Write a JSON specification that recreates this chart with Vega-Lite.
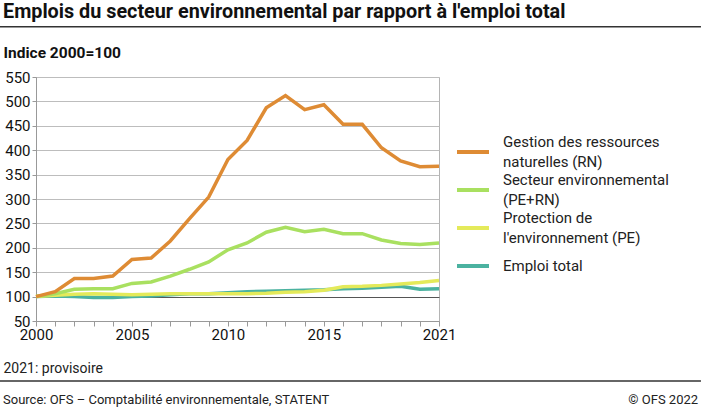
{
  "$schema": "https://vega.github.io/schema/vega-lite/v6.json",
  "autosize": "none",
  "width": 403,
  "height": 244,
  "padding": {"left": 36, "top": 77, "right": 262, "bottom": 89},
  "background": "white",
  "config": {
    "font": "Roboto",
    "view": {"stroke": "#b4b4b4", "strokeWidth": 1},
    "axis": {
      "labelOverlap": false,
      "labelFlush": false,
      "labelFont": "Roboto",
      "labelFontSize": 15,
      "labelColor": "#111",
      "tickColor": "#999",
      "domainColor": "#999",
      "titleFont": "Roboto",
      "titleColor": "#111"
    },
    "axisX": {"tickSize": 5, "labelPadding": 1, "grid": false},
    "axisY": {"tickSize": 4, "labelPadding": 2, "grid": true, "gridColor": "#bdbdbd", "gridWidth": 1}
  },
  "title": {
    "text": "Emplois du secteur environnemental par rapport à l'emploi total",
    "anchor": "start",
    "frame": "group",
    "font": "Roboto",
    "fontSize": 19.8,
    "fontWeight": "bold",
    "color": "#111",
    "baseline": "alphabetic",
    "dx": -33,
    "dy": 43,
    "offset": 31
  },
  "layer": [
    {
      "data": {
        "values": [
          {"year": 2000, "series": "Emploi total", "v": 100},
          {"year": 2001, "series": "Emploi total", "v": 101},
          {"year": 2002, "series": "Emploi total", "v": 100},
          {"year": 2003, "series": "Emploi total", "v": 98},
          {"year": 2004, "series": "Emploi total", "v": 98},
          {"year": 2005, "series": "Emploi total", "v": 100},
          {"year": 2006, "series": "Emploi total", "v": 101},
          {"year": 2007, "series": "Emploi total", "v": 104},
          {"year": 2008, "series": "Emploi total", "v": 106},
          {"year": 2009, "series": "Emploi total", "v": 106},
          {"year": 2010, "series": "Emploi total", "v": 108},
          {"year": 2011, "series": "Emploi total", "v": 110},
          {"year": 2012, "series": "Emploi total", "v": 111},
          {"year": 2013, "series": "Emploi total", "v": 112},
          {"year": 2014, "series": "Emploi total", "v": 113},
          {"year": 2015, "series": "Emploi total", "v": 114},
          {"year": 2016, "series": "Emploi total", "v": 116},
          {"year": 2017, "series": "Emploi total", "v": 117},
          {"year": 2018, "series": "Emploi total", "v": 119},
          {"year": 2019, "series": "Emploi total", "v": 121},
          {"year": 2020, "series": "Emploi total", "v": 115},
          {"year": 2021, "series": "Emploi total", "v": 116},
          {"year": 2000, "series": "Protection de l'environnement (PE)", "v": 100},
          {"year": 2001, "series": "Protection de l'environnement (PE)", "v": 103},
          {"year": 2002, "series": "Protection de l'environnement (PE)", "v": 105},
          {"year": 2003, "series": "Protection de l'environnement (PE)", "v": 106},
          {"year": 2004, "series": "Protection de l'environnement (PE)", "v": 105},
          {"year": 2005, "series": "Protection de l'environnement (PE)", "v": 104},
          {"year": 2006, "series": "Protection de l'environnement (PE)", "v": 105},
          {"year": 2007, "series": "Protection de l'environnement (PE)", "v": 106},
          {"year": 2008, "series": "Protection de l'environnement (PE)", "v": 106},
          {"year": 2009, "series": "Protection de l'environnement (PE)", "v": 106},
          {"year": 2010, "series": "Protection de l'environnement (PE)", "v": 106},
          {"year": 2011, "series": "Protection de l'environnement (PE)", "v": 106},
          {"year": 2012, "series": "Protection de l'environnement (PE)", "v": 107},
          {"year": 2013, "series": "Protection de l'environnement (PE)", "v": 109},
          {"year": 2014, "series": "Protection de l'environnement (PE)", "v": 110},
          {"year": 2015, "series": "Protection de l'environnement (PE)", "v": 113},
          {"year": 2016, "series": "Protection de l'environnement (PE)", "v": 120},
          {"year": 2017, "series": "Protection de l'environnement (PE)", "v": 121},
          {"year": 2018, "series": "Protection de l'environnement (PE)", "v": 123},
          {"year": 2019, "series": "Protection de l'environnement (PE)", "v": 126},
          {"year": 2020, "series": "Protection de l'environnement (PE)", "v": 129},
          {"year": 2021, "series": "Protection de l'environnement (PE)", "v": 133},
          {"year": 2000, "series": "Secteur environnemental (PE+RN)", "v": 100},
          {"year": 2001, "series": "Secteur environnemental (PE+RN)", "v": 106},
          {"year": 2002, "series": "Secteur environnemental (PE+RN)", "v": 115},
          {"year": 2003, "series": "Secteur environnemental (PE+RN)", "v": 116},
          {"year": 2004, "series": "Secteur environnemental (PE+RN)", "v": 116},
          {"year": 2005, "series": "Secteur environnemental (PE+RN)", "v": 127},
          {"year": 2006, "series": "Secteur environnemental (PE+RN)", "v": 130},
          {"year": 2007, "series": "Secteur environnemental (PE+RN)", "v": 142},
          {"year": 2008, "series": "Secteur environnemental (PE+RN)", "v": 156},
          {"year": 2009, "series": "Secteur environnemental (PE+RN)", "v": 171},
          {"year": 2010, "series": "Secteur environnemental (PE+RN)", "v": 196},
          {"year": 2011, "series": "Secteur environnemental (PE+RN)", "v": 210},
          {"year": 2012, "series": "Secteur environnemental (PE+RN)", "v": 232},
          {"year": 2013, "series": "Secteur environnemental (PE+RN)", "v": 242},
          {"year": 2014, "series": "Secteur environnemental (PE+RN)", "v": 233},
          {"year": 2015, "series": "Secteur environnemental (PE+RN)", "v": 238},
          {"year": 2016, "series": "Secteur environnemental (PE+RN)", "v": 229},
          {"year": 2017, "series": "Secteur environnemental (PE+RN)", "v": 229},
          {"year": 2018, "series": "Secteur environnemental (PE+RN)", "v": 216},
          {"year": 2019, "series": "Secteur environnemental (PE+RN)", "v": 209},
          {"year": 2020, "series": "Secteur environnemental (PE+RN)", "v": 207},
          {"year": 2021, "series": "Secteur environnemental (PE+RN)", "v": 210},
          {"year": 2000, "series": "Gestion des ressources naturelles (RN)", "v": 100},
          {"year": 2001, "series": "Gestion des ressources naturelles (RN)", "v": 110},
          {"year": 2002, "series": "Gestion des ressources naturelles (RN)", "v": 137},
          {"year": 2003, "series": "Gestion des ressources naturelles (RN)", "v": 137},
          {"year": 2004, "series": "Gestion des ressources naturelles (RN)", "v": 142},
          {"year": 2005, "series": "Gestion des ressources naturelles (RN)", "v": 176},
          {"year": 2006, "series": "Gestion des ressources naturelles (RN)", "v": 179},
          {"year": 2007, "series": "Gestion des ressources naturelles (RN)", "v": 214},
          {"year": 2008, "series": "Gestion des ressources naturelles (RN)", "v": 260},
          {"year": 2009, "series": "Gestion des ressources naturelles (RN)", "v": 304},
          {"year": 2010, "series": "Gestion des ressources naturelles (RN)", "v": 381},
          {"year": 2011, "series": "Gestion des ressources naturelles (RN)", "v": 420},
          {"year": 2012, "series": "Gestion des ressources naturelles (RN)", "v": 487},
          {"year": 2013, "series": "Gestion des ressources naturelles (RN)", "v": 512},
          {"year": 2014, "series": "Gestion des ressources naturelles (RN)", "v": 483},
          {"year": 2015, "series": "Gestion des ressources naturelles (RN)", "v": 493},
          {"year": 2016, "series": "Gestion des ressources naturelles (RN)", "v": 453},
          {"year": 2017, "series": "Gestion des ressources naturelles (RN)", "v": 453},
          {"year": 2018, "series": "Gestion des ressources naturelles (RN)", "v": 405},
          {"year": 2019, "series": "Gestion des ressources naturelles (RN)", "v": 378},
          {"year": 2020, "series": "Gestion des ressources naturelles (RN)", "v": 366},
          {"year": 2021, "series": "Gestion des ressources naturelles (RN)", "v": 367}
        ]
      },
      "mark": {"type": "line", "strokeWidth": 3.5},
      "encoding": {
        "x": {
          "field": "year",
          "type": "quantitative",
          "scale": {"domain": [2000, 2021], "nice": false, "zero": false},
          "axis": {
            "title": "2021: provisoire",
            "titleFontSize": 14,
            "titleFontWeight": "normal",
            "titleColor": "#222",
            "titleAlign": "left",
            "titleBaseline": "alphabetic",
            "titleAnchor": "start",
            "titleX": -33,
            "titleY": 51,
            "values": [2000, 2001, 2002, 2003, 2004, 2005, 2006, 2007, 2008, 2009, 2010, 2011, 2012, 2013, 2014, 2015, 2016, 2017, 2018, 2019, 2020, 2021],
            "format": "d",
            "labelExpr": "indexof([2000, 2005, 2010, 2015, 2021], datum.value) >= 0 ? datum.label : ''",
            "labelOverlap": false
          }
        },
        "y": {
          "field": "v",
          "type": "quantitative",
          "scale": {"domain": [50, 550], "nice": false, "zero": false},
          "axis": {
            "title": "Indice 2000=100",
            "titleFontSize": 15.5,
            "titleFontWeight": "bold",
            "titleAngle": 0,
            "titleAlign": "left",
            "titleBaseline": "alphabetic",
            "titleX": -33,
            "titleY": -20,
            "values": [50, 100, 150, 200, 250, 300, 350, 400, 450, 500, 550],
            "labelOverlap": false,
            "gridColor": {"condition": {"test": "datum.value === 100", "value": "#555"}, "value": "#bdbdbd"}
          }
        },
        "color": {
          "field": "series",
          "type": "nominal",
          "scale": {
            "domain": ["Gestion des ressources naturelles (RN)", "Secteur environnemental (PE+RN)", "Protection de l'environnement (PE)", "Emploi total"],
            "range": ["#de8b34", "#a9e060", "#e4ea5a", "#4bb2a0"]
          },
          "legend": {
            "title": null,
            "orient": "none",
            "legendX": 419,
            "legendY": 57,
            "padding": 0,
            "symbolType": "stroke",
            "symbolSize": 1024,
            "symbolStrokeWidth": 4,
            "labelFont": "Roboto",
            "labelFontSize": 15,
            "labelColor": "#222",
            "labelLimit": 0,
            "labelOffset": 12,
            "rowPadding": 2,
            "labelExpr": "datum.label == 'Gestion des ressources naturelles (RN)' ? ['Gestion des ressources', 'naturelles (RN)'] : datum.label == 'Secteur environnemental (PE+RN)' ? ['Secteur environnemental', '(PE+RN)'] : datum.label == \"Protection de l'environnement (PE)\" ? ['Protection de', \"l'environnement (PE)\"] : datum.label",
            "encode": {"labels": {"update": {"lineHeight": {"value": 20}, "dy": {"signal": "datum.value == 'Emploi total' ? 0 : -10"}}}}
          }
        }
      }
    },
    {
      "data": {"values": [{"k": "haut"}, {"k": "bas"}]},
      "transform": [{"filter": "datum.k == 'haut'"}],
      "mark": {"type": "rule", "color": "#333", "strokeWidth": 1.5, "clip": false},
      "encoding": {
        "x": {
          "datum": 1998.124,
          "axis": {
            "title": "2021: provisoire",
            "titleFontSize": 14,
            "titleFontWeight": "normal",
            "titleColor": "#222",
            "titleAlign": "left",
            "titleBaseline": "alphabetic",
            "titleAnchor": "start",
            "titleX": -33,
            "titleY": 51,
            "values": [2000, 2001, 2002, 2003, 2004, 2005, 2006, 2007, 2008, 2009, 2010, 2011, 2012, 2013, 2014, 2015, 2016, 2017, 2018, 2019, 2020, 2021],
            "format": "d",
            "labelExpr": "indexof([2000, 2005, 2010, 2015, 2021], datum.value) >= 0 ? datum.label : ''",
            "labelOverlap": false
          }
        },
        "x2": {"datum": 2034.65},
        "y": {
          "datum": 653,
          "axis": {
            "title": "Indice 2000=100",
            "titleFontSize": 15.5,
            "titleFontWeight": "bold",
            "titleAngle": 0,
            "titleAlign": "left",
            "titleBaseline": "alphabetic",
            "titleX": -33,
            "titleY": -20,
            "values": [50, 100, 150, 200, 250, 300, 350, 400, 450, 500, 550],
            "labelOverlap": false,
            "gridColor": {"condition": {"test": "datum.value === 100", "value": "#555"}, "value": "#bdbdbd"}
          }
        }
      }
    },
    {
      "data": {"values": [{"k": "bas"}]},
      "mark": {"type": "rule", "color": "#333", "strokeWidth": 1.5, "clip": false},
      "encoding": {
        "x": {
          "datum": 1998.124,
          "axis": {
            "title": "2021: provisoire",
            "titleFontSize": 14,
            "titleFontWeight": "normal",
            "titleColor": "#222",
            "titleAlign": "left",
            "titleBaseline": "alphabetic",
            "titleAnchor": "start",
            "titleX": -33,
            "titleY": 51,
            "values": [2000, 2001, 2002, 2003, 2004, 2005, 2006, 2007, 2008, 2009, 2010, 2011, 2012, 2013, 2014, 2015, 2016, 2017, 2018, 2019, 2020, 2021],
            "format": "d",
            "labelExpr": "indexof([2000, 2005, 2010, 2015, 2021], datum.value) >= 0 ? datum.label : ''",
            "labelOverlap": false
          }
        },
        "x2": {"datum": 2034.65},
        "y": {
          "datum": -73,
          "axis": {
            "title": "Indice 2000=100",
            "titleFontSize": 15.5,
            "titleFontWeight": "bold",
            "titleAngle": 0,
            "titleAlign": "left",
            "titleBaseline": "alphabetic",
            "titleX": -33,
            "titleY": -20,
            "values": [50, 100, 150, 200, 250, 300, 350, 400, 450, 500, 550],
            "labelOverlap": false,
            "gridColor": {"condition": {"test": "datum.value === 100", "value": "#555"}, "value": "#bdbdbd"}
          }
        }
      }
    },
    {
      "data": {"values": [{"txt": "Source: OFS – Comptabilité environnementale, STATENT"}]},
      "mark": {"type": "text", "align": "left", "baseline": "alphabetic", "font": "Roboto", "fontSize": 13, "color": "#222", "clip": false},
      "encoding": {
        "x": {
          "datum": 1998.28,
          "axis": {
            "title": "2021: provisoire",
            "titleFontSize": 14,
            "titleFontWeight": "normal",
            "titleColor": "#222",
            "titleAlign": "left",
            "titleBaseline": "alphabetic",
            "titleAnchor": "start",
            "titleX": -33,
            "titleY": 51,
            "values": [2000, 2001, 2002, 2003, 2004, 2005, 2006, 2007, 2008, 2009, 2010, 2011, 2012, 2013, 2014, 2015, 2016, 2017, 2018, 2019, 2020, 2021],
            "format": "d",
            "labelExpr": "indexof([2000, 2005, 2010, 2015, 2021], datum.value) >= 0 ? datum.label : ''",
            "labelOverlap": false
          }
        },
        "y": {
          "datum": -120.7,
          "axis": {
            "title": "Indice 2000=100",
            "titleFontSize": 15.5,
            "titleFontWeight": "bold",
            "titleAngle": 0,
            "titleAlign": "left",
            "titleBaseline": "alphabetic",
            "titleX": -33,
            "titleY": -20,
            "values": [50, 100, 150, 200, 250, 300, 350, 400, 450, 500, 550],
            "labelOverlap": false,
            "gridColor": {"condition": {"test": "datum.value === 100", "value": "#555"}, "value": "#bdbdbd"}
          }
        },
        "text": {"field": "txt"}
      }
    },
    {
      "data": {"values": [{"txt": "© OFS 2022"}]},
      "mark": {"type": "text", "align": "right", "baseline": "alphabetic", "font": "Roboto", "fontSize": 13, "color": "#222", "clip": false},
      "encoding": {
        "x": {
          "datum": 2034.5,
          "axis": {
            "title": "2021: provisoire",
            "titleFontSize": 14,
            "titleFontWeight": "normal",
            "titleColor": "#222",
            "titleAlign": "left",
            "titleBaseline": "alphabetic",
            "titleAnchor": "start",
            "titleX": -33,
            "titleY": 51,
            "values": [2000, 2001, 2002, 2003, 2004, 2005, 2006, 2007, 2008, 2009, 2010, 2011, 2012, 2013, 2014, 2015, 2016, 2017, 2018, 2019, 2020, 2021],
            "format": "d",
            "labelExpr": "indexof([2000, 2005, 2010, 2015, 2021], datum.value) >= 0 ? datum.label : ''",
            "labelOverlap": false
          }
        },
        "y": {
          "datum": -120.7,
          "axis": {
            "title": "Indice 2000=100",
            "titleFontSize": 15.5,
            "titleFontWeight": "bold",
            "titleAngle": 0,
            "titleAlign": "left",
            "titleBaseline": "alphabetic",
            "titleX": -33,
            "titleY": -20,
            "values": [50, 100, 150, 200, 250, 300, 350, 400, 450, 500, 550],
            "labelOverlap": false,
            "gridColor": {"condition": {"test": "datum.value === 100", "value": "#555"}, "value": "#bdbdbd"}
          }
        },
        "text": {"field": "txt"}
      }
    }
  ]
}
